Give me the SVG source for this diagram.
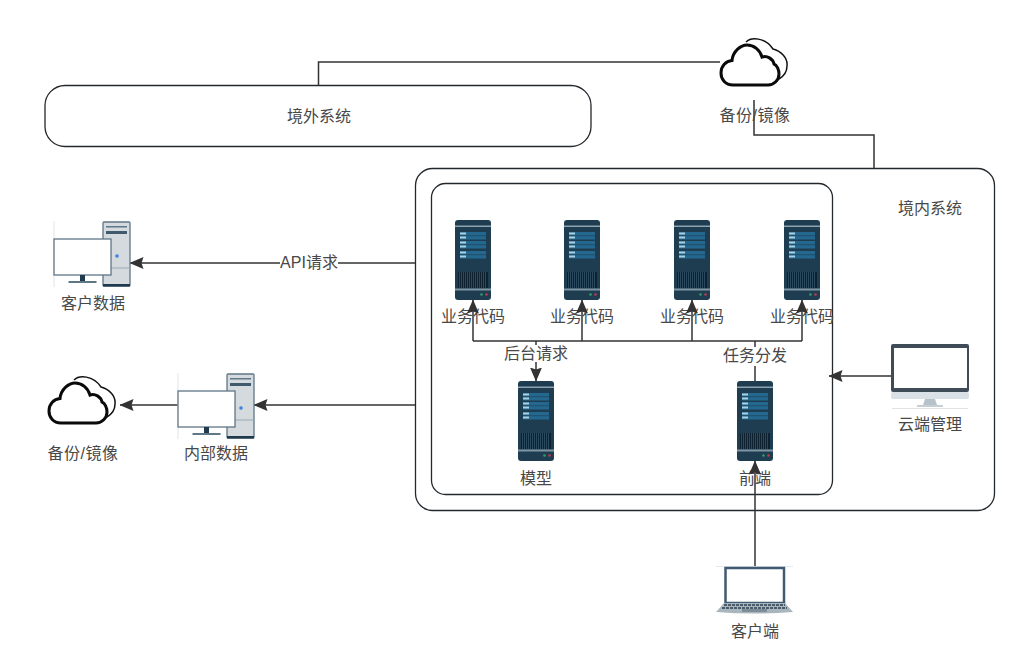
<svg xmlns="http://www.w3.org/2000/svg" width="1018" height="669" viewBox="0 0 1018 669">
<style>
text{font-family:"Liberation Sans","Noto Sans CJK SC",sans-serif;font-size:16px;fill:#484848;text-anchor:middle}
.wide{letter-spacing:.5px}
.box{fill:#fff;stroke:#23282d;stroke-width:1.300}
.ln{fill:none;stroke:#333;stroke-width:1.500}
.ar{fill:none;stroke:#333;stroke-width:1.500;marker-end:url(#a)}
.lb{fill:#fff}
</style>
<defs>
<marker id="a" viewBox="0 0 14 12" refX="13.500" refY="6" markerWidth="14" markerHeight="12" markerUnits="userSpaceOnUse" orient="auto"><path d="M0 0L14 6L0 12L2 6Z" fill="#333"/></marker>
<symbol id="srv" width="36" height="80" viewBox="0 0 36 80">
<rect width="36" height="80" rx="3" fill="#1f3d50"/>
<rect y="5.500" width="36" height="1.500" fill="#8fa3ae"/>
<rect y="68.500" width="36" height="2" fill="#7f95a1"/>
<g fill="#24688f"><rect x="5" y="12" width="26" height="7.500"/><rect x="5" y="21" width="26" height="7.500"/><rect x="5" y="31" width="26" height="7.500"/></g>
<path d="M5 15.700H31M5 24.700H31M5 34.700H31" stroke="#1f3d50" stroke-width=".6"/>
<g fill="#a9cfe2"><rect x="5" y="12.500" width="6" height="2"/><rect x="5" y="16.500" width="6" height="2"/><rect x="5" y="21.500" width="6" height="2"/><rect x="5" y="25.500" width="6" height="2"/><rect x="5" y="31.500" width="6" height="2"/><rect x="5" y="35.500" width="6" height="2"/></g>
<rect x="3" y="52" width="30" height="16" fill="#0d2130"/>
<path d="M4.500 52V68M6.500 52V68M8.500 52V68M10.500 52V68M12.500 52V68M14.500 52V68M16.500 52V68M18.500 52V68M20.500 52V68M22.500 52V68M24.500 52V68M26.500 52V68M28.500 52V68M30.500 52V68" stroke="#35566b" stroke-width=".8"/>
<circle cx="26.500" cy="74.500" r="1.300" fill="#2e9e6c"/><circle cx="31.500" cy="74.500" r="1.300" fill="#c2374f"/>
</symbol>
<symbol id="pc" width="78" height="66" viewBox="0 0 78 66">
<path d="M1 0V66" stroke="#dfe3e6" stroke-width="1"/>
<rect x="50" y="1" width="27" height="64" rx="1" fill="#d5dade" stroke="#5f7686" stroke-width="1.300"/>
<rect x="50" y="63" width="27" height="2.500" fill="#1f3a4d"/>
<rect x="53" y="5" width="21" height="1.500" fill="#5f7686"/><rect x="53" y="10" width="21" height="3" fill="#3f5a6c"/>
<path d="M50 47H77" stroke="#9aa8b1" stroke-width="1"/>
<circle cx="64" cy="35" r="1.800" fill="#3f82d9"/>
<rect x="1" y="18" width="57" height="36" fill="#fff" stroke="#5f7686" stroke-width="1.300"/>
<rect x="27" y="54" width="5" height="6" fill="#1f3a4d"/><rect x="15.500" y="60" width="28" height="2" fill="#5f7686"/>
</symbol>
<symbol id="cl" width="72" height="52" viewBox="0 0 72 52">
<path d="M27 5C32 0 46 0 54 12C62 14 69 21 68 29C68 34 65 39 60 42" fill="none" stroke="#111" stroke-width="1.500"/>
<path d="M14 48C6 48 2 42 2 36C2 29 7 24 13 23.500C14 14 22 8 28 8C35 8 41 13 43 20C48 18 54 22 55 27C58 28 60 33 60 37C60 43 55 48 49 48Z" fill="#fff" stroke="#0a0a0a" stroke-width="3"/>
</symbol>
</defs>
<g id="outer"><rect class="box" x="415.500" y="168.500" width="579" height="342" rx="17"/><text x="930" y="214">境内系统</text></g>
<g id="inner"><rect class="box" x="431.500" y="183.500" width="401" height="311" rx="14"/></g>
<g id="overseas"><rect class="box" x="45" y="85.500" width="546" height="61" rx="20"/><text x="319" y="122">境外系统</text></g>
<g id="s1"><use href="#srv" x="455" y="220"/></g>
<g id="s2"><use href="#srv" x="564" y="220"/></g>
<g id="s3"><use href="#srv" x="674" y="220"/></g>
<g id="s4"><use href="#srv" x="784" y="220"/></g>
<g id="model"><use href="#srv" x="518" y="381"/><text x="536" y="484">模型</text></g>
<g id="front"><use href="#srv" x="737" y="381"/><text x="755" y="484">前端</text></g>
<g id="labels"><text x="473" y="322">业务代码</text><text x="582" y="322">业务代码</text><text x="692" y="322">业务代码</text><text x="802" y="322">业务代码</text></g>
<g id="connectors">
<path class="ln" d="M318.500 85V62H720"/>
<path class="ln" d="M754 100V135H874V168"/>
<path class="ar" d="M415 263H130"/>
<path class="ar" d="M415 405H254"/>
<path class="ar" d="M178 405H120"/>
<path class="ar" d="M891 376H829"/>
<path class="ln" d="M473 341H802"/>
<path class="ar" d="M473 341V300"/><path class="ar" d="M582 341V300"/><path class="ar" d="M692 341V300"/><path class="ar" d="M802 341V300"/>
<path class="ar" d="M536 341V381"/>
<path class="ln" d="M755 381V341"/>
<path class="ar" d="M755 567V461"/>
</g>
<g id="api-label"><rect class="lb" x="280" y="254" width="58" height="17"/><text x="309" y="268">API请求</text></g>
<g id="l1"><rect class="lb" x="504" y="345" width="64" height="17"/><text x="536" y="359">后台请求</text></g>
<g id="l2"><rect class="lb" x="723" y="347" width="64" height="19"/><text x="755" y="361">任务分发</text></g>
<g id="cust-data"><use href="#pc" x="53" y="221"/><text x="93" y="309">客户数据</text></g>
<g id="int-data"><use href="#pc" x="177" y="373"/><text x="216" y="459">内部数据</text></g>
<g id="cloud1"><use href="#cl" x="47" y="375"/><text class="wide" x="83" y="459">备份/镜像</text></g>
<g id="cloud2"><use href="#cl" x="719" y="37"/><text class="wide" x="755" y="121">备份/镜像</text></g>
<g id="mgmt">
<rect x="891" y="344" width="78" height="48" rx="2" fill="#3f4b57"/>
<rect x="894" y="348" width="73" height="40" fill="#fff"/>
<rect x="891" y="392" width="78" height="7" rx="2" fill="#d9e0e6"/>
<path d="M925 399H935L937 405H923Z" fill="#b6c2ca"/><rect x="917" y="405" width="26" height="2" fill="#c5ced4"/>
<path d="M892 408.500H968" stroke="#dfe3e6"/>
<text x="930" y="430">云端管理</text></g>
<g id="client">
<path d="M716 566.500H793" stroke="#e6e8ea"/>
<rect x="725.500" y="568" width="58.500" height="35" fill="#fff" stroke="#3f5a72" stroke-width="2.500"/>
<path d="M724 603H785L793 612Q755 615 716 612Z" fill="#aab6be"/>
<path d="M724 605H785" stroke="#4a5c6a" stroke-width="2" stroke-dasharray="3 1"/><path d="M722 608H787" stroke="#4a5c6a" stroke-width="2" stroke-dasharray="3 1"/>
<rect x="742" y="609" width="25" height="3" fill="#7f8d97"/>
<text x="755" y="637">客户端</text></g>
</svg>
